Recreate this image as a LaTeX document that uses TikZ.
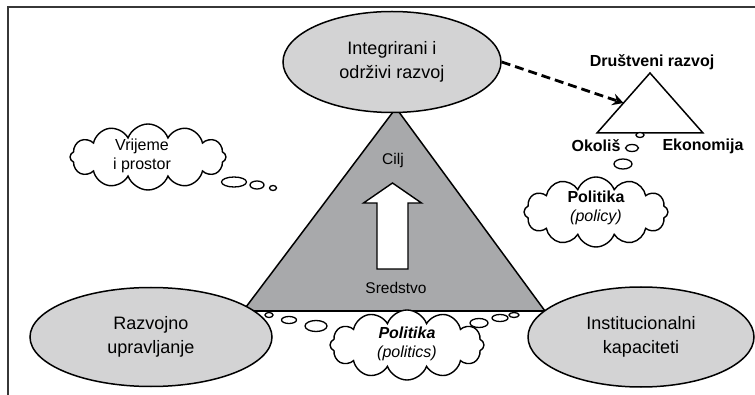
\documentclass[tikz,border=0pt]{standalone}
\usepackage{fontspec}
\setmainfont{Liberation Sans}
\usetikzlibrary{shapes.geometric,shapes.symbols,arrows.meta,calc}
\definecolor{ellfill}{RGB}{211,211,212}
\definecolor{trifill}{RGB}{168,169,171}
\definecolor{framecol}{RGB}{55,55,55}
\begin{document}
\begin{tikzpicture}[x=1pt,y=-1pt,
  ell/.style={ellipse, draw=black, line width=1.5pt, fill=ellfill, inner sep=0pt, align=center, font=\fontsize{18}{23.5}\selectfont},
  thought/.style={cloud, cloud puffs=12, cloud puff arc=140, cloud ignores aspect, draw=black, line width=1.4pt, fill=white, inner sep=0pt},
  cloudtext/.style={align=center, inner sep=0pt, font=\fontsize{16}{18.5}\selectfont},
  bubble/.style={ellipse, draw=black, line width=1.3pt, fill=white, inner sep=0pt},
  lbl/.style={font=\fontsize{16}{18}\selectfont\bfseries, inner sep=0pt},
  plainlbl/.style={font=\fontsize{15.5}{18}\selectfont, inner sep=0pt}
]
\useasboundingbox (0,0) rectangle (755,395);
% frame
\coordinate (fbl) at (8,395);
\coordinate (ftl) at (8,7);
\coordinate (ftr) at (755,7);
\draw[framecol, line width=1.3pt] (fbl) -- (ftl) -- (ftr);

% big triangle
\coordinate (ta) at (396,108);
\coordinate (tl) at (243,311);
\coordinate (tr) at (545,311);
\fill[trifill] (ta) -- (tl) -- (tr) -- cycle;
\draw[black, line width=1.5pt, line join=round] (tl) -- (ta) -- (tr);
\draw[black, line width=2.6pt] (tl) -- (tr);

% white arrow
\draw[black, line width=1.4pt, fill=white, line join=miter]
  (392.5,183) -- (421.5,203) -- (408,203) -- (408,269) -- (377,269) -- (377,203) -- (363.5,203) -- cycle;
\node[plainlbl] (cilj) at (393,160) {Cilj};
\node[plainlbl] (sred) at (396,288) {Sredstvo};

% ellipses
\node[ell, minimum width=218pt, minimum height=101pt] (top) at (392,62) {Integrirani i\\održivi razvoj};
\node[ell, minimum width=242pt, minimum height=99pt] (left) at (151,337) {Razvojno\\upravljanje};
\node[ell, minimum width=226pt, minimum height=100pt] (right) at (641,337) {Institucionalni\\kapaciteti};

% small triangle
\coordinate (sa) at (650,73);
\coordinate (sl) at (597,133);
\coordinate (sr) at (703,133);
\draw[black, line width=1.5pt, line join=miter] (sa) -- (sl) -- (sr) -- cycle;
\node[lbl] (drus) at (652,62) {Društveni razvoj};
\node[lbl] (okol) at (596,146) {Okoliš};
\node[lbl] (ekon) at (703,146) {Ekonomija};

% dashed arrow
\draw[black, line width=2.8pt, dash pattern=on 9pt off 5pt, -{Stealth[length=11pt,width=12pt,inset=4pt]}]
  (top.east) -- ($(sl)!0.5!(sa)$);

% thought cloud: vrijeme
\node[thought, minimum width=156pt, minimum height=66pt] (vrij) at (148,157) {};
\node[cloudtext] (vrijt) at (142,156) {Vrijeme\\i prostor};
\node[bubble, minimum width=25pt, minimum height=10pt] (vb1) at (234,182) {};
\node[bubble, minimum width=14pt, minimum height=8pt] (vb2) at (257,185) {};
\node[bubble, minimum width=7pt, minimum height=5pt] (vb3) at (273,188) {};

% policy cloud
\node[bubble, minimum width=8pt, minimum height=5pt] (pb1) at (640,135) {};
\node[bubble, minimum width=13pt, minimum height=7pt] (pb2) at (632,148) {};
\node[bubble, minimum width=18pt, minimum height=10pt] (pb3) at (623,164) {};
\node[thought, minimum width=144pt, minimum height=70pt] (policy) at (596,212) {};
\node[cloudtext] (policyt) at (596,208) {\textbf{Politika}\\\textit{(policy)}};

% politics cloud
\node[bubble, minimum width=8pt, minimum height=5pt] (lb1) at (269,315) {};
\node[bubble, minimum width=15pt, minimum height=7pt] (lb2) at (289,320) {};
\node[bubble, minimum width=22pt, minimum height=11pt] (lb3) at (316,326) {};
\node[thought, minimum width=154pt, minimum height=70pt] (politics) at (407,345) {};
\node[cloudtext] (politicst) at (407,344) {\textbf{\textit{Politika}}\\\textit{(politics)}};
\node[bubble, minimum width=18pt, minimum height=9pt] (rb1) at (479,323) {};
\node[bubble, minimum width=16pt, minimum height=7pt] (rb2) at (500,318) {};
\node[bubble, minimum width=10pt, minimum height=5pt] (rb3) at (514,315) {};
\end{tikzpicture}
\end{document}
